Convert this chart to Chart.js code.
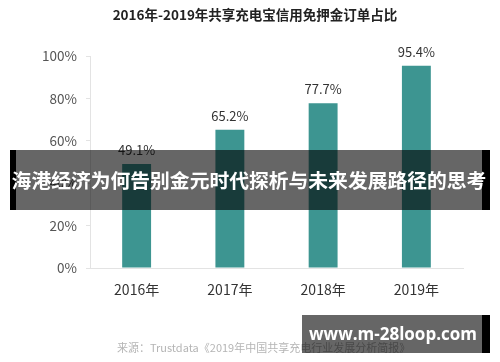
<!DOCTYPE html>
<html>
<head>
<meta charset="utf-8">
<script src="https://cdn.jsdelivr.net/npm/chart.js@4/dist/chart.umd.min.js"></script>
<style>
  html, body { margin: 0; padding: 0; background: #fff; }
  #wrap { position: relative; width: 500px; height: 362px; overflow: hidden; font-family: "Noto Sans CJK SC", "Noto Sans", sans-serif; }
  canvas { position: absolute; left: 0; top: 0; }
  #banner { position: absolute; left: 10px; top: 150px; width: 480px; height: 60px; background: rgba(0,0,0,0.6); border-left: 6px solid #000; border-right: 8px solid #000; box-sizing: border-box; }
  #bannerText { position: absolute; left: 0; top: 150px; width: 498px; height: 60px; line-height: 60px; text-align: center; color: #fff; font-weight: bold; font-size: 19.8px; white-space: nowrap; }
  #wm { position: absolute; left: 302px; top: 315px; width: 188px; height: 38px; background: rgba(0,0,0,0.6); border-right: 8px solid #000; box-sizing: border-box; }
  #wmText { position: absolute; left: 303px; top: 315px; width: 180px; height: 38px; line-height: 38px; text-align: center; color: #fff; font-weight: bold; font-size: 17px; font-family: "Open Sans", "DejaVu Sans", sans-serif; white-space: nowrap; }
  #source { position: absolute; left: 117px; top: 339px; font-size: 11px; color: #b5b5b5; white-space: nowrap; }
</style>
</head>
<body>
<div id="wrap">
  <canvas id="c" width="500" height="362"></canvas>
  <div id="source">来源：Trustdata《2019年中国共享充电行业发展分析简报》</div>
  <div id="banner"></div>
  <div id="bannerText">海港经济为何告别金元时代探析与未来发展路径的思考</div>
  <div id="wm"></div>
  <div id="wmText">www.m-28loop.com</div>
</div>
<script>
const titleText = "2016年-2019年共享充电宝信用免押金订单占比";
const categories = ["2016年", "2017年", "2018年", "2019年"];
const values = [49.1, 65.2, 77.7, 95.4];
const yTicks = [0, 20, 40, 60, 80, 100];

const FONT = '"Noto Sans CJK SC", "Noto Sans", sans-serif';

const dataLabels = {
  id: 'dataLabels',
  afterDatasetsDraw(chart) {
    const ctx = chart.ctx;
    const meta = chart.getDatasetMeta(0);
    ctx.save();
    ctx.font = '13px ' + FONT;
    ctx.fillStyle = '#333';
    ctx.textAlign = 'center';
    ctx.textBaseline = 'middle';
    meta.data.forEach((bar, i) => {
      ctx.fillText(values[i].toFixed(1) + '%', bar.x, bar.y - 14);
    });
    ctx.restore();
  }
};

const titleDraw = {
  id: 'titleDraw',
  afterDraw(chart) {
    const ctx = chart.ctx;
    ctx.save();
    ctx.font = 'bold 13.5px ' + FONT;
    ctx.fillStyle = '#222';
    ctx.textAlign = 'center';
    ctx.textBaseline = 'middle';
    ctx.fillText(titleText, 255, 15);
    ctx.restore();
  }
};

new Chart(document.getElementById('c'), {
  type: 'bar',
  data: {
    labels: categories,
    datasets: [{
      data: values,
      backgroundColor: '#3d9591',
      borderWidth: 0,
      categoryPercentage: 1,
      barPercentage: 0.31
    }]
  },
  options: {
    responsive: false,
    animation: false,
    devicePixelRatio: 1,
    layout: { padding: { left: 0, right: 37, top: 56, bottom: 0 } },
    plugins: {
      legend: { display: false },
      tooltip: { enabled: false },
      title: { display: false }
    },
    scales: {
      x: {
        grid: { display: false, drawTicks: false },
        border: { display: true, color: '#e3e3e3', width: 1 },
        ticks: { color: '#333', font: { family: FONT, size: 14 }, padding: 13 },
        afterFit: (s) => { s.height = 94; }
      },
      y: {
        min: 0, max: 100,
        afterBuildTicks: (s) => { s.ticks = yTicks.map(v => ({ value: v })); },
        grid: { display: true, drawOnChartArea: false, drawTicks: true, tickLength: 4, color: '#e3e3e3' },
        border: { display: true, color: '#e3e3e3', width: 1 },
        ticks: { color: '#555', font: { family: FONT, size: 13.5 }, padding: 9, callback: (v) => v + '%' },
        afterFit: (s) => { s.width = 90; }
      }
    }
  },
  plugins: [dataLabels, titleDraw]
});
</script>
</body>
</html>
